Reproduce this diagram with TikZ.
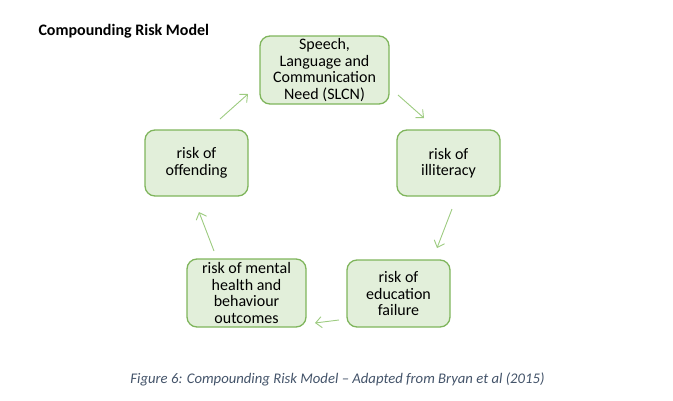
\documentclass[tikz,border=0pt]{standalone}
\usepackage{fontspec}
\setmainfont{Carlito}
\usetikzlibrary{arrows.meta}

\definecolor{boxfill}{HTML}{E2EFDA}
\definecolor{boxline}{HTML}{7FB55C}
\definecolor{arrowgreen}{HTML}{9DCB80}
\definecolor{capblue}{HTML}{44546A}

\tikzset{
  risk/.style={draw=boxline, fill=boxfill, line width=1.3pt, rounded corners=10pt,
    align=center, inner sep=0pt, font=\fontsize{16}{16.5}\selectfont},
  cyc/.style={-{Straight Barb[length=6pt,width=11pt]}, draw=arrowgreen, line width=0.9pt}
}

\begin{document}
\begin{tikzpicture}[x=1pt,y=-1pt]
\useasboundingbox (0,0) rectangle (673,400);

\node[anchor=base west, font=\fontsize{16}{18}\selectfont\bfseries] (title) at (35,35) {Compounding Risk Model};

\node[risk, minimum width=129pt, minimum height=68pt] (slcn) at (324.5,70) {Speech,\\Language and\\Communication\\Need (SLCN)};
\node[risk, minimum width=103pt, minimum height=66pt] (illit) at (448.5,163) {risk of\\illiteracy};
\node[risk, minimum width=103pt, minimum height=67pt] (edu) at (398.5,293.5) {risk of\\education\\failure};
\node[risk, minimum width=119pt, minimum height=68pt] (mental) at (246.5,293) {risk of mental\\health and\\behaviour\\outcomes};
\node[risk, minimum width=103pt, minimum height=66pt] (offend) at (196.5,163) {risk of\\offending};

% arrow ends sit in the gaps between the boxes
\coordinate (a1s) at (398,95);  \coordinate (a1e) at (424,118);
\coordinate (a2s) at (452,209); \coordinate (a2e) at (437,248);
\coordinate (a3s) at (339,320); \coordinate (a3e) at (315,323);
\coordinate (a4s) at (214,251); \coordinate (a4e) at (199,212);
\coordinate (a5s) at (220,119); \coordinate (a5e) at (248,94);

\draw [cyc] (a1s) -- (a1e);
\draw [cyc] (a2s) -- (a2e);
\draw [cyc] (a3s) -- (a3e);
\draw [cyc] (a4s) -- (a4e);
\draw [cyc] (a5s) -- (a5e);

\node[anchor=base, text=capblue, font=\fontsize{14.7}{17}\selectfont\itshape] (caption) at (337.5,383) {Figure 6: Compounding Risk Model -- Adapted from Bryan et al (2015)};
\end{tikzpicture}
\end{document}
